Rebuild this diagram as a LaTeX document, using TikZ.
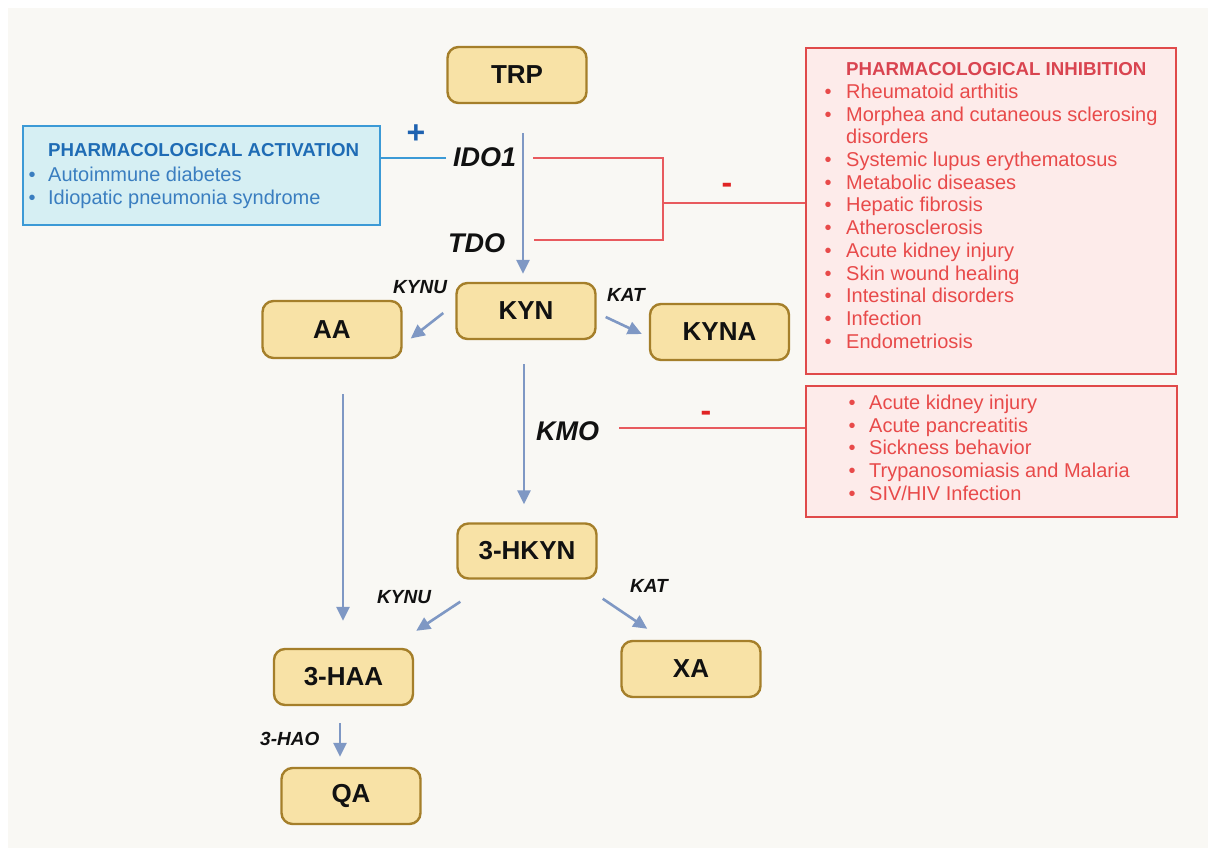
\documentclass[tikz,border=0pt]{standalone}
\usepackage{fontspec}
\setmainfont{Liberation Sans}
\usetikzlibrary{arrows.meta,calc}
\definecolor{bg}{HTML}{F9F8F4}
\definecolor{boxfill}{HTML}{F8E2A6}
\definecolor{boxdraw}{HTML}{A57F2A}
\definecolor{arrc}{HTML}{7F98C4}
\definecolor{redl}{HTML}{E85A5E}
\definecolor{redtxt}{HTML}{E84A4A}
\definecolor{redtitle}{HTML}{D94450}
\definecolor{redfill}{HTML}{FDEBEA}
\definecolor{redbox}{HTML}{E04A4A}
\definecolor{minusred}{HTML}{E02424}
\definecolor{bluefill}{HTML}{D6EFF3}
\definecolor{bluebox}{HTML}{3C9AD6}
\definecolor{bluetitle}{HTML}{1F6CB5}
\definecolor{bluetxt}{HTML}{3A7EC0}
\definecolor{plusblue}{HTML}{1E62B0}
\definecolor{ink}{HTML}{111111}
\newcommand\bu[1]{\llap{\makebox[#1]{\textbullet}}}
\begin{document}
\begin{tikzpicture}[x=1pt,y=-1pt,
  mbox/.style={draw=boxdraw, fill=boxfill, line width=2.4pt, rounded corners=11pt,
    minimum width=139pt, minimum height=56pt, inner sep=0, text=ink,
    font=\fontsize{26}{30}\selectfont\bfseries},
  enz/.style={font=\fontsize{27}{30}\selectfont\bfseries\itshape, inner sep=0, anchor=base west, text=ink},
  enzs/.style={font=\fontsize{19}{22}\selectfont\bfseries\itshape, inner sep=0, anchor=base west, text=ink},
  arr/.style={draw=arrc, line width=2.6pt, -{Triangle[length=14pt,width=13pt]}},
  redline/.style={draw=redl, line width=2.2pt},
  blueline/.style={draw=bluebox, line width=2.2pt},
  listtxt/.style={anchor=north west, inner sep=0, align=left, font=\fontsize{20}{22.7}\selectfont},
  sign/.style={inner sep=0, font=\fontsize{32}{34}\selectfont\bfseries}
]
\fill[white] (0,0) rectangle (1208,848);
\fill[bg] (8,8) rectangle (1208,848);
\useasboundingbox (0,0) rectangle (1208,848);

% metabolite boxes
\node[mbox] (trp) at (517,75) {TRP};
\node[mbox] (kyn) at (526,311) {KYN};
\node[mbox, minimum height=57pt] (aa) at (332,329.5) {AA};
\node[mbox] (kyna) at (719.5,332) {KYNA};
\node[mbox, minimum height=55pt] (hkyn) at (527,551) {3-HKYN};
\node[mbox] (haa) at (343.5,677) {3-HAA};
\node[mbox] (xa) at (691,669) {XA};
\node[mbox] (qa) at (351,796) {QA};

% enzyme labels
\node[enz] (ido) at (453,167) {IDO1};
\node[enz] (tdo) at (448,252) {TDO};
\node[enz] (kmo) at (536,440) {KMO};
\node[enzs] (kynu1) at (393,293) {KYNU};
\node[enzs] (kat1) at (607,301) {KAT};
\node[enzs] (kynu2) at (377,603) {KYNU};
\node[enzs] (kat2) at (630,592) {KAT};
\node[enzs] (hao) at (260,745) {3-HAO};

% pathway arrows
\draw[arr] ([shift={(-3,29)}]trp.south -| kyn.north) -- ([shift={(-3,-8)}]kyn.north);
\draw[arr] ([shift={(-12,2)}]kyn.west) -- ([shift={(8,9)}]aa.east);
\draw[arr] ([shift={(9,6)}]kyn.east) -- ([shift={(-7,2)}]kyna.west);
\draw[arr] ([shift={(-2,24)}]kyn.south) -- ([shift={(-3,-18)}]hkyn.north);
\draw[arr] ([shift={(11,35)}]aa.south) -- ([shift={(-0.5,-27)}]haa.north);
\draw[arr] ([shift={(4,22)}]hkyn.south west) -- ([shift={(2,-17)}]haa.north east);
\draw[arr] ([shift={(5,19)}]hkyn.south east) -- ([shift={(27,-11)}]xa.north west);
\draw[arr] ([shift={(-3.5,17)}]haa.south) -- ([shift={(-11,-10)}]qa.north);

% activation box
\node[draw=bluebox, fill=bluefill, line width=1.8pt, minimum width=357pt, minimum height=99pt,
  anchor=north west, inner sep=0] (blue) at (22,125) {};
\node[listtxt, text=bluetxt] (bluet) at (48,143.6)
  {{\color{bluetitle}\fontsize{18.7}{22.7}\selectfont\bfseries PHARMACOLOGICAL ACTIVATION}\\[2pt]
   \bu{32pt}Autoimmune diabetes\\
   \bu{32pt}Idiopatic pneumonia syndrome};

% inhibition boxes
\node[draw=redbox, fill=redfill, line width=1.8pt, minimum width=370pt, minimum height=326pt,
  anchor=north west, inner sep=0] (red1) at (805,47) {};
\node[listtxt, text=redtxt] (red1t) at (846,62.5)
  {{\color{redtitle}\fontsize{18.7}{22.7}\selectfont\bfseries PHARMACOLOGICAL INHIBITION}\\
   \bu{36pt}Rheumatoid arthitis\\
   \bu{36pt}Morphea and cutaneous sclerosing\\
   disorders\\
   \bu{36pt}Systemic lupus erythematosus\\
   \bu{36pt}Metabolic diseases\\
   \bu{36pt}Hepatic fibrosis\\
   \bu{36pt}Atherosclerosis\\
   \bu{36pt}Acute kidney injury\\
   \bu{36pt}Skin wound healing\\
   \bu{36pt}Intestinal disorders\\
   \bu{36pt}Infection\\
   \bu{36pt}Endometriosis};

\node[draw=redbox, fill=redfill, line width=1.8pt, minimum width=371pt, minimum height=131pt,
  anchor=north west, inner sep=0] (red2) at (805,385) {};
\node[listtxt, text=redtxt] (red2t) at (869,394.7)
  {\bu{34pt}Acute kidney injury\\
   \bu{34pt}Acute pancreatitis\\
   \bu{34pt}Sickness behavior\\
   \bu{34pt}Trypanosomiasis and Malaria\\
   \bu{34pt}SIV/HIV Infection};

% regulation connectors
\coordinate (br) at (663,203);
\draw[redline] ([shift={(17,0)}]ido.east) -| (br) |- ([shift={(29,-3)}]tdo.east);
\draw[redline] (br) -- (br -| red1.west);
\draw[redline] ([shift={(20,-3)}]kmo.east) -- ([yshift=3pt]kmo.east -| red2.west);
\draw[blueline] ([xshift=-7pt]ido.west) -- (ido.west -| blue.east);

% signs
\node[sign, text=plusblue] (plus) at (416,134) {+};
\node[sign, text=minusred] (minus1) at (727,188) {-};
\node[sign, text=minusred] (minus2) at (706,416) {-};
\end{tikzpicture}
\end{document}
